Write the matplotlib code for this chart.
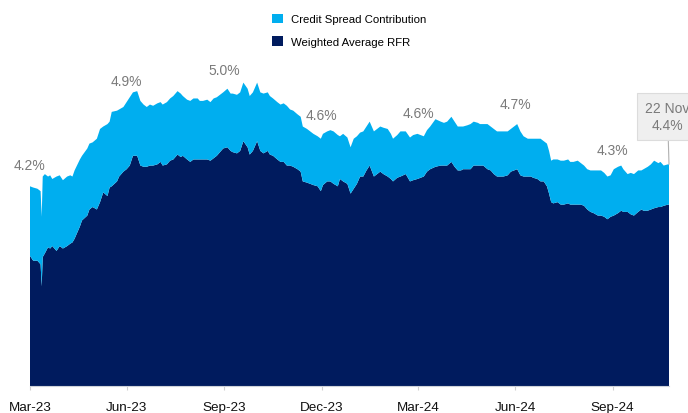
import matplotlib
matplotlib.use("Agg")
import matplotlib.pyplot as plt
import matplotlib.dates as mdates
from matplotlib.patches import Patch
import numpy as np
import pandas as pd

plt.rcParams['font.family'] = ['Liberation Sans', 'DejaVu Sans']

dates = [
    "2023-03-31", "2023-04-03", "2023-04-07", "2023-04-10", "2023-04-11", "2023-04-12", "2023-04-14",
    "2023-04-17", "2023-04-19", "2023-04-21", "2023-04-25", "2023-04-28", "2023-05-01", "2023-05-05",
    "2023-05-08", "2023-05-10", "2023-05-12", "2023-05-17", "2023-05-19", "2023-05-24", "2023-05-26",
    "2023-05-29", "2023-06-02", "2023-06-05", "2023-06-08", "2023-06-12", "2023-06-14", "2023-06-16",
    "2023-06-21", "2023-06-23", "2023-06-27", "2023-06-30", "2023-07-03", "2023-07-06", "2023-07-10",
    "2023-07-13", "2023-07-16", "2023-07-19", "2023-07-22", "2023-07-25", "2023-07-29", "2023-08-01",
    "2023-08-03", "2023-08-07", "2023-08-10", "2023-08-13", "2023-08-17", "2023-08-20", "2023-08-22",
    "2023-08-26", "2023-08-29", "2023-09-01", "2023-09-05", "2023-09-07", "2023-09-10", "2023-09-14",
    "2023-09-17", "2023-09-20", "2023-09-23", "2023-09-26", "2023-09-29", "2023-10-03", "2023-10-06",
    "2023-10-08", "2023-10-12", "2023-10-15", "2023-10-18", "2023-10-22", "2023-10-24", "2023-10-27",
    "2023-10-31", "2023-11-03", "2023-11-06", "2023-11-10", "2023-11-12", "2023-11-15", "2023-11-19",
    "2023-11-22", "2023-11-25", "2023-11-28", "2023-12-01", "2023-12-04", "2023-12-08", "2023-12-11",
    "2023-12-13", "2023-12-17", "2023-12-20", "2023-12-23", "2023-12-27", "2023-12-30", "2024-01-01",
    "2024-01-05", "2024-01-08", "2024-01-11", "2024-01-15", "2024-01-17", "2024-01-20", "2024-01-24",
    "2024-01-27", "2024-01-30", "2024-02-02", "2024-02-05", "2024-02-08", "2024-02-11", "2024-02-14",
    "2024-02-18", "2024-02-21", "2024-02-24", "2024-02-27", "2024-03-02", "2024-03-05", "2024-03-07",
    "2024-03-11", "2024-03-14", "2024-03-19", "2024-03-23", "2024-03-26", "2024-03-30", "2024-04-02",
    "2024-04-05", "2024-04-08", "2024-04-11", "2024-04-16", "2024-04-21", "2024-04-24", "2024-04-27",
    "2024-05-01", "2024-05-04", "2024-05-07", "2024-05-10", "2024-05-12", "2024-05-16", "2024-05-19",
    "2024-05-22", "2024-05-26", "2024-05-28", "2024-05-31", "2024-06-04", "2024-06-07", "2024-06-10",
    "2024-06-13", "2024-06-16", "2024-06-19", "2024-06-23", "2024-06-26", "2024-06-29", "2024-07-02",
    "2024-07-05", "2024-07-08", "2024-07-12", "2024-07-15", "2024-07-17", "2024-07-21", "2024-07-24",
    "2024-07-27", "2024-07-30", "2024-08-01", "2024-08-03", "2024-08-05", "2024-08-09", "2024-08-12",
    "2024-08-15", "2024-08-19", "2024-08-21", "2024-08-24", "2024-08-28", "2024-08-31", "2024-09-03",
    "2024-09-06", "2024-09-09", "2024-09-12", "2024-09-16", "2024-09-19", "2024-09-22", "2024-09-25",
    "2024-09-28", "2024-10-01", "2024-10-05", "2024-10-08", "2024-10-10", "2024-10-14", "2024-10-17",
    "2024-10-20", "2024-10-24", "2024-10-27", "2024-10-29", "2024-11-02", "2024-11-05", "2024-11-08",
    "2024-11-12", "2024-11-14", "2024-11-17", "2024-11-21", "2024-11-22",
]

total_yield = [
    4.17, 4.16, 4.15, 4.13, 3.92, 4.25, 4.27,
    4.25, 4.26, 4.23, 4.25, 4.26, 4.22, 4.25,
    4.26, 4.25, 4.30, 4.39, 4.42, 4.48, 4.52,
    4.53, 4.56, 4.64, 4.66, 4.68, 4.70, 4.78,
    4.79, 4.80, 4.82, 4.86, 4.90, 4.94, 4.95,
    4.87, 4.84, 4.82, 4.84, 4.83, 4.85, 4.86,
    4.84, 4.86, 4.89, 4.91, 4.95, 4.93, 4.91,
    4.88, 4.87, 4.89, 4.89, 4.87, 4.87, 4.88,
    4.86, 4.89, 4.90, 4.92, 4.94, 4.97, 4.93,
    4.93, 4.92, 4.94, 5.02, 4.97, 4.91, 4.94,
    5.02, 4.94, 4.93, 4.94, 4.91, 4.89, 4.86,
    4.84, 4.85, 4.83, 4.80, 4.79, 4.76, 4.74,
    4.66, 4.64, 4.62, 4.60, 4.58, 4.56, 4.60,
    4.62, 4.63, 4.62, 4.59, 4.58, 4.60, 4.57,
    4.49, 4.56, 4.58, 4.61, 4.62, 4.66, 4.70,
    4.62, 4.64, 4.66, 4.65, 4.64, 4.60, 4.56,
    4.59, 4.62, 4.62, 4.57, 4.59, 4.60, 4.59,
    4.58, 4.63, 4.66, 4.72, 4.70, 4.69, 4.70,
    4.74, 4.70, 4.66, 4.66, 4.66, 4.67, 4.68,
    4.70, 4.69, 4.68, 4.68, 4.68, 4.66, 4.64,
    4.62, 4.62, 4.62, 4.62, 4.64, 4.66, 4.68,
    4.62, 4.58, 4.56, 4.56, 4.56, 4.56, 4.56,
    4.54, 4.52, 4.46, 4.38, 4.39, 4.39, 4.38,
    4.38, 4.39, 4.37, 4.37, 4.38, 4.36, 4.34,
    4.31, 4.30, 4.30, 4.30, 4.30, 4.28, 4.25,
    4.26, 4.31, 4.33, 4.34, 4.31, 4.27, 4.28,
    4.27, 4.30, 4.30, 4.31, 4.33, 4.35, 4.38,
    4.36, 4.37, 4.34, 4.35, 4.35,
]

weighted_avg_rfr = [
    3.60, 3.56, 3.56, 3.53, 3.35, 3.59, 3.62,
    3.67, 3.66, 3.68, 3.64, 3.68, 3.66, 3.68,
    3.70, 3.71, 3.74, 3.84, 3.89, 3.93, 3.98,
    4.00, 3.98, 4.04, 4.12, 4.09, 4.16, 4.17,
    4.21, 4.25, 4.29, 4.31, 4.34, 4.42, 4.42,
    4.34, 4.33, 4.33, 4.34, 4.34, 4.35, 4.37,
    4.34, 4.35, 4.38, 4.39, 4.43, 4.41, 4.42,
    4.39, 4.37, 4.39, 4.39, 4.39, 4.39, 4.39,
    4.38, 4.40, 4.42, 4.45, 4.48, 4.49, 4.46,
    4.45, 4.44, 4.46, 4.54, 4.49, 4.43, 4.46,
    4.54, 4.46, 4.44, 4.46, 4.43, 4.42, 4.39,
    4.37, 4.37, 4.34, 4.34, 4.33, 4.31, 4.29,
    4.21, 4.20, 4.19, 4.18, 4.17, 4.13, 4.18,
    4.21, 4.21, 4.19, 4.17, 4.23, 4.21, 4.19,
    4.11, 4.15, 4.19, 4.25, 4.25, 4.30, 4.34,
    4.25, 4.27, 4.29, 4.27, 4.25, 4.23, 4.21,
    4.24, 4.25, 4.27, 4.21, 4.22, 4.23, 4.24,
    4.25, 4.29, 4.31, 4.33, 4.34, 4.34, 4.34,
    4.37, 4.33, 4.30, 4.30, 4.31, 4.31, 4.31,
    4.34, 4.34, 4.34, 4.34, 4.31, 4.30, 4.27,
    4.25, 4.25, 4.25, 4.26, 4.29, 4.30, 4.31,
    4.26, 4.25, 4.25, 4.25, 4.24, 4.23, 4.21,
    4.21, 4.17, 4.11, 4.04, 4.03, 4.04, 4.02,
    4.02, 4.03, 4.02, 4.02, 4.02, 4.02, 4.01,
    3.98, 3.96, 3.95, 3.93, 3.93, 3.92, 3.90,
    3.92, 3.93, 3.95, 3.97, 3.96, 3.96, 3.94,
    3.93, 3.96, 3.98, 3.97, 3.97, 3.98, 3.99,
    4.00, 4.00, 4.01, 4.02, 4.02,
]

tick_dates = ["2023-03-31", "2023-06-30", "2023-09-30", "2023-12-31",
              "2024-03-31", "2024-06-30", "2024-09-30"]
tick_labels = ["Mar-23", "Jun-23", "Sep-23", "Dec-23", "Mar-24", "Jun-24", "Sep-24"]

ann_dates = ["2023-03-31", "2023-06-30", "2023-09-30", "2023-12-31",
             "2024-03-31", "2024-06-30", "2024-09-30"]
ann_labels = ["4.2%", "4.9%", "5.0%", "4.6%", "4.6%", "4.7%", "4.3%"]
last_label = "22 Nov\n4.4%"

series_names = ["Credit Spread Contribution", "Weighted Average RFR"]
NAVY = "#001B5E"
CYAN = "#00AEEF"

x = pd.to_datetime(dates)
tot = np.array(total_yield)
rfr = np.array(weighted_avg_rfr)
spread = tot - rfr

fig = plt.figure(figsize=(6.88, 4.14), dpi=100)
ax = fig.add_axes([30 / 688, 27 / 414, 639 / 688, 350 / 414])

ax.stackplot(x, rfr, spread, colors=[NAVY, CYAN], linewidth=0)

ax.set_xlim(x[0], x[-1])
ax.set_ylim(2.533, 5.402)

ax.set_xticks(pd.to_datetime(tick_dates))
ax.set_xticklabels(tick_labels, fontsize=9.7, color="#111111")
ax.tick_params(axis="x", length=3, color="#d0d0d0", pad=8)
ax.set_yticks([])
for s in ["top", "right", "left"]:
    ax.spines[s].set_visible(False)
ax.spines["bottom"].set_color("#cfd3da")
ax.spines["bottom"].set_linewidth(0.8)

xnum = mdates.date2num(x)
for d, lab in zip(ann_dates, ann_labels):
    dn = mdates.date2num(pd.Timestamp(d))
    yv = np.interp(dn, xnum, tot)
    ax.annotate(lab, xy=(pd.Timestamp(d), yv), xytext=(0, 15.5), textcoords="offset points",
                ha="center", va="center", fontsize=10, color="#7a7a7a", annotation_clip=False)

ax.annotate(last_label, xy=(x[-1], tot[-1]), xytext=(-1, 34.5), textcoords="offset points",
            ha="center", va="center", fontsize=10, color="#7a7a7a", linespacing=1.2,
            annotation_clip=False,
            bbox=dict(boxstyle="square,pad=0.6", facecolor="#efefef", edgecolor="#dcdcdc", linewidth=0.8),
            arrowprops=dict(arrowstyle="-", color="#b0b0b0", lw=0.8, shrinkA=0, shrinkB=0))

handles = [Patch(facecolor=CYAN, edgecolor="none"), Patch(facecolor=NAVY, edgecolor="none")]
fig.legend(handles, series_names, loc="upper left", bbox_to_anchor=(272 / 688, 1 - 14.5 / 414),
           frameon=False, fontsize=8.2, handlelength=0.97, handleheight=0.97,
           handletextpad=0.7, labelspacing=1.02, borderpad=0, borderaxespad=0)

fig.savefig("out.png", dpi=100)
